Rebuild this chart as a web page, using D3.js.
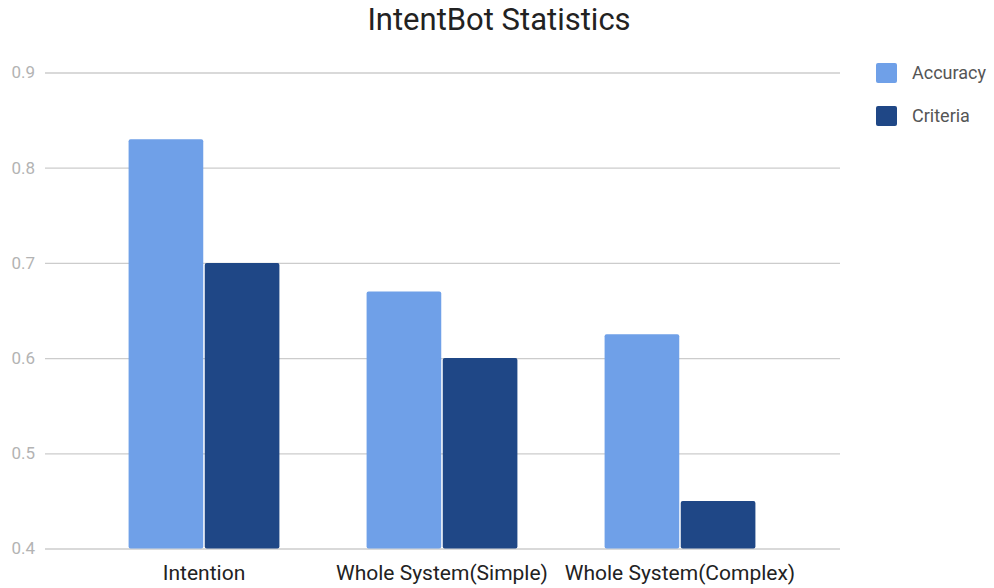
<!DOCTYPE html>
<html><head><meta charset="utf-8">
<script src="https://cdn.jsdelivr.net/npm/d3@7"></script>
<style>body{margin:0;background:#fff}svg{display:block}text{font-family:Roboto,"Noto Sans",sans-serif}</style>
</head><body><svg id="c" width="994" height="588"></svg>
<script>
const categories = ["Intention", "Whole System(Simple)", "Whole System(Complex)"];
const seriesNames = ["Accuracy", "Criteria"];
const accuracy = [0.83, 0.67, 0.625];
const criteria = [0.70, 0.60, 0.45];
const yTicks = [0.4, 0.5, 0.6, 0.7, 0.8, 0.9];
const colors = ["#6fa0e8", "#1f4786"];
const title = "IntentBot Statistics";

const svg = d3.select("#c");
const y = d3.scaleLinear().domain([0.4, 0.9]).range([548.5, 72.5]);
const x0 = d3.scaleBand().domain(categories).range([85, 799]).paddingInner(0.36).paddingOuter(0.18);
const x1 = d3.scaleBand().domain(seriesNames).range([0, x0.bandwidth()]).padding(0);

// gridlines
const yAxis = d3.axisLeft(y).tickValues(yTicks).tickFormat(d3.format(".1f")).tickSize(-(840-45)).tickPadding(10);
const gy = svg.append("g").attr("transform","translate(45,0)").call(yAxis);
gy.select(".domain").remove();
gy.selectAll(".tick line").attr("stroke","#cccccc").attr("stroke-width",1.3);
gy.selectAll(".tick text").attr("fill","#b3b3b3").attr("font-size",17).attr("x",-10);

const data = categories.map((c,i)=>({c, vals:[accuracy[i], criteria[i]]}));
const g = svg.append("g");
data.forEach(d=>{
  d.vals.forEach((v,j)=>{
    g.append("rect")
      .attr("x", x0(d.c)+x1(seriesNames[j])+0.75)
      .attr("y", y(v))
      .attr("width", x1.bandwidth()-1.5)
      .attr("height", y(0.4)-y(v))
      .attr("rx",2).attr("ry",2)
      .attr("fill", colors[j]);
  });
});

// x axis labels
const xAxis = d3.axisBottom(x0).tickSize(0).tickPadding(0);
const gx = svg.append("g").attr("transform","translate(0,565)").call(xAxis);
gx.select(".domain").remove();
gx.selectAll(".tick text").attr("fill","#222").attr("font-size",21).attr("font-family","Roboto");

// title
svg.append("text").attr("x",499).attr("y",30).attr("text-anchor","middle")
  .attr("font-size",31).attr("fill","#222").text(title);

// legend
const lg = svg.append("g").attr("transform","translate(876,63)");
seriesNames.forEach((s,i)=>{
  const r = lg.append("g").attr("transform",`translate(0,${i*43})`);
  r.append("rect").attr("width",21).attr("height",20).attr("rx",2).attr("fill",colors[i]);
  r.append("text").attr("x",36).attr("y",16).attr("font-size",18).attr("fill","#555").text(s);
});
</script></body></html>
